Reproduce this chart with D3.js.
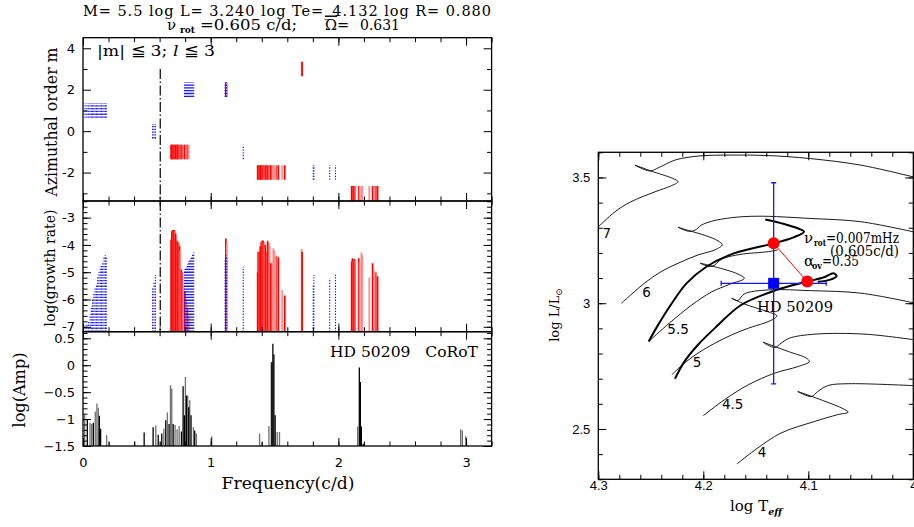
<!DOCTYPE html>
<html>
<head>
<meta charset="utf-8">
<script src="https://cdn.jsdelivr.net/npm/d3@7"></script>
<style>
  body { margin: 0; background: #fff; }
  svg { display: block; }
</style>
</head>
<body>
<div id="chart"></div>
<script>
// ---- mode data: [frequency (c/d), log(growth rate)] for stable (blue) modes
const blueM1 = [[0.016,-6.95],[0.030,-6.90],[0.042,-6.80],[0.055,-6.55],[0.065,-6.25],[0.075,-6.00],
  [0.085,-5.75],[0.095,-5.60],[0.105,-5.45],[0.115,-5.15],[0.125,-5.00],[0.135,-4.80],[0.145,-4.75],
  [0.155,-4.62],[0.165,-4.45],[0.175,-4.38],[0.182,-4.42]];
const blueM0 = [[0.545,-5.60],[0.556,-5.35],[0.567,-5.10]];
const blueM2a = [[0.795,-4.90],[0.803,-4.85],[0.811,-4.80],[0.819,-4.70],[0.827,-4.60],[0.835,-4.55],
  [0.843,-4.50],[0.851,-4.42],[0.859,-4.35],[0.867,-4.28]];
const blueM2b = [[1.113,-4.55],[1.119,-4.37],[1.125,-4.45]];
const blueMm1 = [[1.255,-4.80]];
const blueMm2 = [[1.803,-5.50],[1.808,-5.10],[1.932,-5.22],[1.977,-5.07]];

// unstable (red) modes: [frequency, log(growth rate), l]
const redMm1 = [[0.690,-3.80,1],[0.696,-3.50,1],[0.702,-3.45,1],[0.708,-3.48,2],[0.714,-3.45,1],
  [0.720,-3.50,2],[0.726,-3.60,1],[0.732,-3.85,1],[0.738,-3.85,2],[0.744,-3.90,1],[0.750,-3.95,2],
  [0.756,-4.05,1],[0.762,-4.20,3],[0.770,-4.90,1],[0.778,-5.00,2],[0.788,-5.50,3],[0.798,-5.70,1],
  [0.808,-6.00,3],[0.818,-6.30,2],[0.828,-6.60,3]];
const redM2 = [[1.119,-3.76,1],[1.127,-3.95,3]];
const redMm2 = [[1.368,-5.00,1],[1.372,-4.25,1],[1.380,-4.25,2],[1.388,-4.05,1],[1.396,-3.88,1],
  [1.404,-3.83,2],[1.412,-3.85,1],[1.420,-3.90,3],[1.428,-4.00,1],[1.438,-4.26,2],[1.446,-3.85,1],
  [1.454,-3.93,2],[1.462,-4.05,3],[1.470,-4.67,1],[1.478,-4.67,2],[1.490,-4.12,3],[1.500,-4.20,3],
  [1.515,-4.40,2],[1.530,-4.45,1],[1.560,-5.65,3],[1.580,-5.85,1]];
const redM3 = [[1.712,-4.15,3],[1.716,-4.25,1]];
const redMm3 = [[2.104,-4.61,1],[2.110,-4.49,1],[2.116,-4.61,2],[2.124,-4.52,1],[2.130,-4.54,2],
  [2.159,-4.49,1],[2.166,-4.61,3],[2.180,-4.28,3],[2.187,-4.37,3],[2.242,-5.19,3],[2.268,-4.67,1],
  [2.281,-4.94,3],[2.294,-5.00,2],[2.307,-5.15,1]];

// azimuthal order of each group
const redGroups = [[-1, redMm1], [2, redM2], [-2, redMm2], [3, redM3], [-3, redMm3]];
const blueGroups = [[1, blueM1], [0, blueM0], [2, blueM2a], [2, blueM2b], [-1, blueMm1], [-2, blueMm2]];

const rotFreq = 0.605;

// CoRoT periodogram peaks: [frequency, log(Amp)]
const peaksGrey = [[0.013,-0.92],[0.055,-1.07],[0.068,-1.09],[0.096,-0.86],[0.109,-0.71],[0.120,-0.79],
  [0.185,-1.30],[0.206,-1.42],[0.406,-1.42],[0.570,-1.12],[0.607,-1.42],[0.633,-1.18],[0.661,-0.88],
  [0.685,-0.37],[0.695,-0.43],[0.721,-1.11],[0.737,-1.19],[0.753,-1.13],[0.802,-0.22],[0.820,-0.56],
  [0.836,-0.65],[0.865,-1.15],[0.888,-1.27],[1.008,-1.32],[1.383,-1.27],[1.401,-1.43],[1.456,-1.13],
  [1.474,0.04],[1.521,-1.24],[1.539,-1.24],[2.151,-1.14],[2.958,-1.19],[2.971,-1.21],[2.997,-1.32]];
const peaksBlack = [[0.034,-1.01],[0.081,-1.07],[0.128,-0.94],[0.138,-1.18],[0.479,-1.25],[0.549,-1.15],
  [0.589,-1.29],[0.617,-1.27],[0.648,-1.02],[0.674,-1.09],[0.706,-1.09],[0.771,-1.23],[0.784,-0.39],
  [0.794,-0.93],[0.810,-0.56],[0.828,-0.78],[0.846,-0.93],[0.875,-1.21],[1.479,0.06],[1.487,0.40],
  [1.495,0.20],[1.505,-0.93],[2.164,-0.04],[2.172,-0.31],[2.180,-1.14],[2.195,-1.46]];

// ---- HR diagram: evolutionary tracks [log Teff, log L/Lsun]
const track7 = [[4.302,3.295],[4.284,3.364],[4.269,3.403],[4.246,3.443],[4.231,3.466],[4.224,3.483],
  [4.229,3.496],[4.250,3.526],[4.265,3.549],[4.251,3.526],[4.242,3.540],[4.227,3.569],[4.205,3.585],
  [4.173,3.589],[4.138,3.587],[4.098,3.575],[4.050,3.549],[3.998,3.500]];
const track6 = [[4.278,3.000],[4.269,3.033],[4.256,3.080],[4.240,3.126],[4.224,3.159],[4.205,3.192],
  [4.189,3.212],[4.182,3.232],[4.186,3.248],[4.198,3.269],[4.214,3.289],[4.224,3.302],[4.214,3.286],
  [4.208,3.290],[4.202,3.310],[4.192,3.326],[4.173,3.340],[4.148,3.346],[4.098,3.337],[4.050,3.324],
  [3.998,3.282]];
const track55 = [[4.252,2.848],[4.232,2.922],[4.211,2.993],[4.192,3.045],[4.175,3.075],[4.161,3.099],
  [4.167,3.116],[4.189,3.145],[4.203,3.159],[4.192,3.146],[4.182,3.176],[4.165,3.194],[4.138,3.205],
  [4.129,3.212]];
const track5 = [[4.230,2.716],[4.218,2.762],[4.205,2.802],[4.189,2.841],[4.173,2.874],[4.157,2.901],
  [4.142,2.921],[4.132,2.940],[4.130,2.951],[4.137,2.964],[4.151,2.983],[4.161,2.997],[4.173,3.020],
  [4.167,3.011],[4.161,3.037],[4.138,3.053],[4.098,3.050],[4.050,3.040],[3.998,3.000]];
const track45 = [[4.200,2.553],[4.180,2.616],[4.157,2.676],[4.132,2.722],[4.110,2.748],[4.099,2.768],
  [4.102,2.782],[4.119,2.808],[4.132,2.828],[4.143,2.845],[4.132,2.824],[4.126,2.841],[4.118,2.861],
  [4.094,2.877],[4.046,2.877],[3.998,2.854]];
const track4 = [[4.168,2.361],[4.148,2.425],[4.126,2.484],[4.094,2.530],[4.072,2.557],[4.062,2.567],
  [4.067,2.581],[4.084,2.610],[4.110,2.649],[4.097,2.629],[4.091,2.649],[4.081,2.673],[4.062,2.680],
  [3.998,2.672]];
// rotating models with overshoot (thick)
const trackRot55 = [[4.252,2.848],[4.244,2.907],[4.232,2.987],[4.216,3.079],[4.197,3.145],[4.171,3.198],
  [4.133,3.238],[4.114,3.262],[4.104,3.284],[4.109,3.296],[4.123,3.315],[4.141,3.333]];
const trackRot5 = [[4.227,2.700],[4.218,2.768],[4.205,2.835],[4.189,2.901],[4.164,2.993],[4.130,3.053],
  [4.101,3.086],[4.085,3.103],[4.076,3.119],[4.073,3.108],[4.079,3.094],[4.091,3.085]];

const massLabels = ["7", "6", "5.5", "5", "4.5", "4"];
const massLabelAt = [[4.292,3.278],[4.254,3.042],[4.224,2.898],[4.206,2.764],[4.172,2.599],[4.144,2.407]];

const star = [4.133, 3.079];
const starErr = [0.05, 0.4];
const models = [[4.133, 3.238], [4.101, 3.086]];

// ---- drawing
const W = 914, H = 527;
const serif = "'DejaVu Serif', serif";
const sans = "'DejaVu Sans', sans-serif";
const redShade = d3.scaleOrdinal().domain([1, 2, 3]).range(["#ff0000", "#ff4848", "#ff8c8c"]);
const blue = "#1010ff";

const svg = d3.select("#chart").append("svg").attr("width", W).attr("height", H);

const x = d3.scaleLinear().domain([0, 3.2]).range([83, 491.6]);
const yM = d3.scaleLinear().domain([-3.37, 4.51]).range([201, 37.7]);
const yG = d3.scaleLinear().domain([-7.18, -2.39]).range([331.7, 201]);
const yA = d3.scaleLinear().domain([-1.5, 0.623]).range([446, 331.7]);

const xH = d3.scaleLinear().domain([4.3, 4.0]).range([598.3, 913.3]);
const yH = d3.scaleLinear().domain([2.3, 3.6]).range([479.3, 152.3]);

function inside(vals, sc) {
  const [a, b] = d3.extent(sc.domain());
  return vals.filter(v => v >= a - 1e-9 && v <= b + 1e-9);
}

// inward ticks on all four sides of a frame
function framedAxes(xs, ys, xMajor, xMinor, yMajor, yMinor, opt) {
  const g = svg.append("g");
  const [x0, x1] = xs.range();
  const [yb, yt] = ys.range();
  xMinor = inside(xMinor, xs); yMinor = inside(yMinor, ys);
  const sides = [
    [d3.axisBottom, xs, `translate(0,${yb})`, xMajor, xMinor, opt.xFmt, opt.xPad],
    [d3.axisTop, xs, `translate(0,${yt})`, xMajor, xMinor, null],
    [d3.axisLeft, ys, `translate(${x0},0)`, yMajor, yMinor, opt.yFmt, opt.yPad],
    [d3.axisRight, ys, `translate(${x1},0)`, yMajor, yMinor, null]
  ];
  sides.forEach(([fn, sc, tr, maj, mn, fmt, pad]) => {
    g.append("g").attr("transform", tr)
      .call(fn(sc).tickValues(mn).tickSize(-opt.minor).tickFormat(""))
      .call(s => s.select(".domain").remove());
    const a = g.append("g").attr("transform", tr)
      .call(fn(sc).tickValues(maj).tickSize(-opt.major).tickPadding(pad || 3)
        .tickFormat(fmt || ""))
      .call(s => s.select(".domain").remove());
    a.attr("font-family", opt.font).attr("font-size", opt.fontSize);
  });
  g.selectAll(".tick line").attr("stroke-width", 1);
  g.append("rect").attr("x", x0).attr("y", yt).attr("width", x1 - x0).attr("height", yb - yt)
    .attr("fill", "none").attr("stroke", "#000").attr("stroke-width", 1.3);
  return g;
}

function clipFor(id, xs, ys) {
  const [x0, x1] = xs.range(), [yb, yt] = ys.range();
  svg.append("clipPath").attr("id", id).append("rect")
    .attr("x", x0).attr("y", yt).attr("width", x1 - x0).attr("height", yb - yt);
  return svg.append("g").attr("clip-path", `url(#${id})`);
}

// plain text placed with a fixed width
function label(px, py, s, size, len, extra) {
  const t = svg.append("text").attr("x", px).attr("y", py)
    .attr("font-family", serif).attr("font-size", size).style("white-space", "pre").text(s);
  if (len) t.attr("textLength", len).attr("lengthAdjust", "spacingAndGlyphs");
  if (extra) extra(t);
  return t;
}

const freqMajor = [0, 1, 2, 3];
const freqMinor = d3.range(0, 17).map(i => i / 5);
const plain = d => String(d);

// ---- panel 1: azimuthal order
const gm = clipFor("clipM", x, yM);
redGroups.forEach(([m, modes]) => {
  gm.selectAll(null).data(modes).join("line")
    .attr("x1", d => x(d[0])).attr("x2", d => x(d[0]))
    .attr("y1", yM(m - 0.35)).attr("y2", yM(m + 0.35))
    .attr("stroke", d => redShade(d[2])).attr("stroke-width", 1.7);
});
blueGroups.forEach(([m, modes]) => {
  gm.selectAll(null).data(modes).join("line")
    .attr("x1", d => x(d[0])).attr("x2", d => x(d[0]))
    .attr("y1", yM(m - 0.35)).attr("y2", yM(m + 0.35))
    .attr("stroke", blue).attr("stroke-width", 1.1).attr("stroke-dasharray", "1.3,1.5");
});
gm.append("line").attr("x1", x(rotFreq)).attr("x2", x(rotFreq))
  .attr("y1", yM(3)).attr("y2", yM.range()[0])
  .attr("stroke", "#000").attr("stroke-width", 1.2).attr("stroke-dasharray", "10,2.5,1.5,2.5");
framedAxes(x, yM, freqMajor, freqMinor, [-2, 0, 2, 4], [-3, -1, 1, 3],
  { major: 8, minor: 4.5, yFmt: plain, yPad: 8, font: sans, fontSize: 13 });

// ---- panel 2: growth rate
const gg = clipFor("clipG", x, yG);
redGroups.forEach(([m, modes]) => {
  gg.selectAll(null).data(modes).join("line")
    .attr("x1", d => x(d[0])).attr("x2", d => x(d[0]))
    .attr("y1", yG.range()[0]).attr("y2", d => yG(d[1]))
    .attr("stroke", d => redShade(d[2])).attr("stroke-width", 1.7);
});
blueGroups.forEach(([m, modes]) => {
  gg.selectAll(null).data(modes).join("line")
    .attr("x1", d => x(d[0])).attr("x2", d => x(d[0]))
    .attr("y1", yG.range()[0]).attr("y2", d => yG(d[1]))
    .attr("stroke", blue).attr("stroke-width", 1.1).attr("stroke-dasharray", "1.3,1.5");
});
gg.append("line").attr("x1", x(rotFreq)).attr("x2", x(rotFreq))
  .attr("y1", yG.range()[1]).attr("y2", yG.range()[0])
  .attr("stroke", "#000").attr("stroke-width", 1.2).attr("stroke-dasharray", "10,2.5,1.5,2.5");
framedAxes(x, yG, freqMajor, freqMinor, [-7, -6, -5, -4, -3], d3.range(-36, -11).map(i => i / 5),
  { major: 8, minor: 4.5, yFmt: plain, yPad: 8, font: sans, fontSize: 13 });

// ---- panel 3: CoRoT amplitudes
const ga = clipFor("clipA", x, yA);
[[peaksGrey, "#707070"], [peaksBlack, "#000"]].forEach(([pk, col]) => {
  ga.selectAll(null).data(pk).join("line")
    .attr("x1", d => x(d[0])).attr("x2", d => x(d[0]))
    .attr("y1", yA.range()[0]).attr("y2", d => yA(d[1]))
    .attr("stroke", col).attr("stroke-width", 1.3);
});
framedAxes(x, yA, freqMajor, freqMinor, [-1.5, -1, -0.5, 0, 0.5], d3.range(-15, 7).map(i => i / 10),
  { major: 8, minor: 4.5, xFmt: d3.format("d"), xPad: 12, yFmt: d3.format(".1~f"), yPad: 8,
    font: sans, fontSize: 13 });

// ---- left panel texts
svg.append("text").attr("x", 287).attr("y", 15.5).attr("text-anchor", "middle")
  .attr("font-family", serif).attr("font-size", 14.5).attr("textLength", 408)
  .style("white-space", "pre")
  .text("M= 5.5 log L= 3.240 log Te=_4.132 log R= 0.880");

label(167, 29.5, "ν", 15);
label(180, 33, "rot", 9.5, 15, t => t.attr("font-weight", "bold"));
label(200, 29.5, "=0.605 c/d;", 14.5, 97);
label(325, 29.5, "Ω", 14.5, null, t => t.attr("text-decoration", "overline"));
label(337, 29.5, "=", 14.5);
label(360, 29.5, "0.631", 14.5, 40);

const t3 = svg.append("text").attr("x", 97).attr("y", 55.5)
  .attr("font-family", serif).attr("font-size", 15.5).style("white-space", "pre")
  .attr("textLength", 118).attr("lengthAdjust", "spacingAndGlyphs");
t3.append("tspan").text("|m| ≦ 3; ");
t3.append("tspan").attr("font-style", "italic").text("l");
t3.append("tspan").text(" ≦ 3");

label(330, 357, "HD 50209   CoRoT", 15.5, 148);

function yLabel(txt, cx, cy, len, size) {
  svg.append("text").attr("transform", `translate(${cx},${cy}) rotate(-90)`)
    .attr("text-anchor", "middle").attr("font-family", serif).attr("font-size", size)
    .attr("textLength", len).attr("lengthAdjust", "spacingAndGlyphs").text(txt);
}
yLabel("Azimuthal order m", 57, 122, 149, 16);
yLabel("log(growth rate)", 54.5, 268, 117, 15);
yLabel("log(Amp)", 25, 390, 75, 16);

svg.append("text").attr("x", 288).attr("y", 489).attr("text-anchor", "middle")
  .attr("font-family", serif).attr("font-size", 16.5).attr("textLength", 133)
  .attr("lengthAdjust", "spacingAndGlyphs").text("Frequency(c/d)");

// ---- right panel: HR diagram
const gh = clipFor("clipH", xH, yH);
const line = d3.line().x(d => xH(d[0])).y(d => yH(d[1])).curve(d3.curveCatmullRom.alpha(0.5));
[track7, track6, track55, track5, track45, track4].forEach(tr => {
  gh.append("path").attr("d", line(tr)).attr("fill", "none").attr("stroke", "#000").attr("stroke-width", 0.9);
});
[trackRot55, trackRot5].forEach(tr => {
  gh.append("path").attr("d", line(tr)).attr("fill", "none").attr("stroke", "#000").attr("stroke-width", 2);
});

// error bars
const eb = gh.append("g").attr("stroke", "#1414ff").attr("stroke-width", 1.3);
eb.append("line").attr("x1", xH(star[0])).attr("x2", xH(star[0]))
  .attr("y1", yH(star[1] - starErr[1])).attr("y2", yH(star[1] + starErr[1]));
eb.append("line").attr("x1", xH(star[0] - starErr[0])).attr("x2", xH(star[0] + starErr[0]))
  .attr("y1", yH(star[1])).attr("y2", yH(star[1]));
[star[1] - starErr[1], star[1] + starErr[1]].forEach(v => {
  eb.append("line").attr("x1", xH(star[0]) - 2.5).attr("x2", xH(star[0]) + 2.5)
    .attr("y1", yH(v)).attr("y2", yH(v));
});
[star[0] - starErr[0], star[0] + starErr[0]].forEach(v => {
  eb.append("line").attr("x1", xH(v)).attr("x2", xH(v))
    .attr("y1", yH(star[1]) - 2.5).attr("y2", yH(star[1]) + 2.5);
});

gh.append("path").attr("d", d3.line().x(d => xH(d[0])).y(d => yH(d[1]))(models))
  .attr("stroke", "#ff0000").attr("stroke-width", 1).attr("fill", "none");
gh.selectAll(null).data(models).join("circle")
  .attr("cx", d => xH(d[0])).attr("cy", d => yH(d[1])).attr("r", 6).attr("fill", "#ff0000");
gh.append("rect").attr("x", xH(star[0]) - 5.5).attr("y", yH(star[1]) - 5.5)
  .attr("width", 11).attr("height", 11).attr("fill", "#0000ff");

gh.selectAll(null).data(massLabels).join("text")
  .attr("x", (d, i) => xH(massLabelAt[i][0])).attr("y", (d, i) => yH(massLabelAt[i][1]))
  .attr("dy", "0.35em").attr("text-anchor", "middle")
  .attr("font-family", sans).attr("font-size", 13.5).text(d => d);

framedAxes(xH, yH, [4.0, 4.1, 4.2, 4.3], d3.range(0, 16).map(i => 4 + i * 0.02),
  [2.5, 3, 3.5], d3.range(23, 37).map(i => i / 10),
  { major: 8, minor: 4.5, xFmt: d3.format(".1~f"), xPad: 1.5, yFmt: d3.format(".1~f"), yPad: 8,
    font: "'Liberation Sans', Arial, sans-serif", fontSize: 13 });

// annotations
label(804, 243, "ν", 15);
label(814, 246, "rot", 8.5, 12, t => t.attr("font-weight", "bold"));
label(826, 243, "=0.007mHz", 14.5, 73);
label(830, 255.5, "(0.605c/d)", 14.5, 69);
label(804, 266, "α", 15);
label(812, 268.5, "ov", 8.5, 10, t => t.attr("font-weight", "bold"));
label(822, 266, "=0.35", 14.5, 37);
label(757, 311.5, "HD 50209", 15.5, 76);

const lx = svg.append("text").attr("transform", "translate(559,315) rotate(-90)")
  .attr("text-anchor", "middle").attr("font-family", serif).attr("font-size", 13);
lx.append("tspan").text("log L/L");
lx.append("tspan").attr("dy", 3).attr("font-size", 9).text("⊙");

const tx = svg.append("text").attr("x", 730).attr("y", 511)
  .attr("font-family", serif).attr("font-size", 15);
tx.append("tspan").text("log T");
tx.append("tspan").attr("dy", 4).attr("font-size", 9.5).attr("font-weight", "bold")
  .attr("font-style", "italic").text("eff");
</script>
</body>
</html>
